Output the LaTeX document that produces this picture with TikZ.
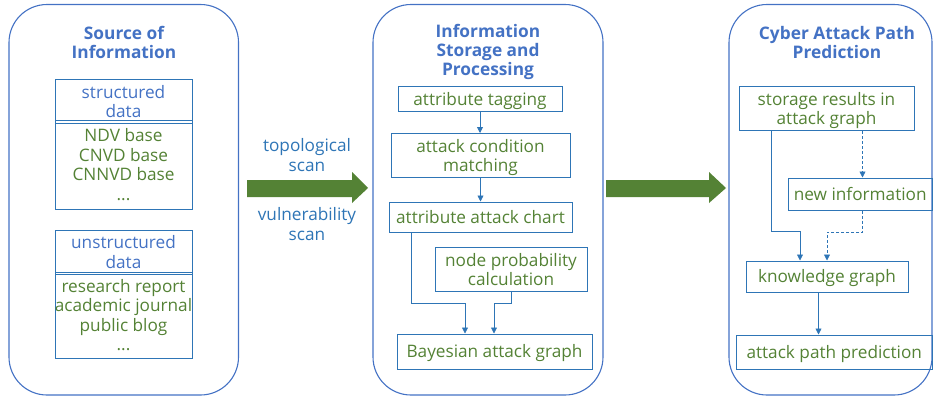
\documentclass[tikz,border=0pt]{standalone}
\usepackage{fontspec}
\setmainfont{Open Sans}
\usetikzlibrary{arrows.meta,calc}
\definecolor{frameblue}{HTML}{4472C4}
\definecolor{boxblue}{HTML}{2E75B6}
\definecolor{txtgreen}{HTML}{548235}
\definecolor{txtblue}{HTML}{4472C4}
\definecolor{flowgreen}{HTML}{548235}
\tikzset{
  container/.style={draw=frameblue, line width=1.1pt, rounded corners=38pt},
  paneltitle/.style={font=\bfseries\fontsize{17.3}{19}\selectfont, text=txtblue, align=center, inner sep=0pt},
  stepbox/.style={draw=boxblue, line width=1pt, inner sep=0pt, text=txtgreen,
    font=\fontsize{17.2}{19.5}\selectfont},
  headbox/.style={stepbox, text=txtblue},
  link/.style={draw=boxblue, line width=0.8pt, -{Triangle[length=6pt,width=6pt]}},
  dlink/.style={link, dash pattern=on 3pt off 2pt},
  scanlabel/.style={font=\fontsize{17.2}{19.5}\selectfont, text=boxblue, align=center, inner sep=0pt},
  bigarrow/.style={fill=flowgreen}
}
% centred lines of zero width, so a long line may overhang its box;
% the extra room on top sets the lines a little lower in the box
\newcommand\boxlines[1]{\makebox[0pt]{\raisebox{0pt}[\dimexpr\height+5pt\relax][\depth]{%
  \begin{tabular}{@{}c@{}}#1\end{tabular}}}}
% box from corner (x1,y1) to (x2,y2), y measured downward
\newcommand\panelbox[7]{%
  \node[#1, minimum width={(#5-#3)*1pt}, minimum height={(#6-#4)*1pt}]
    (#2) at ({(#3+#5)/2},{(#4+#6)/2}) {\boxlines{#7}};}
\begin{document}
\begin{tikzpicture}[x=1pt, y=-1pt]
\useasboundingbox (0,0) rectangle (933,399);

% panels
\draw[container] (9,4.5) rectangle (238.5,395);
\draw[container] (373,4.5) rectangle (603,395);
\begin{scope}
\clip (0,0) rectangle (933,399);
\draw[container] (729,4.5) rectangle (932,395);
\end{scope}

% panel titles
\node[paneltitle] (t1) at (124,42.5) {Source of\\Information};
\node[paneltitle] (t2) at (488,52) {Information\\Storage and\\Processing};
\node[paneltitle] (t3) at (837,42.5) {Cyber Attack Path\\Prediction};

% source of information
\panelbox{headbox}{sh}{55}{83}{192}{120}{structured\\data}
\panelbox{stepbox}{sb}{55}{120}{192}{209}{NDV base\\CNVD base\\CNNVD base\\...}
\panelbox{headbox}{uh}{55}{232}{192}{272}{unstructured\\data}
\panelbox{stepbox}{ub}{55}{272}{192}{358}{research report\\academic journal\\public blog\\...}

% storage and processing
\panelbox{stepbox}{tag}{398}{87}{562}{111}{attribute tagging}
\panelbox{stepbox}{cond}{391}{136}{570}{175}{attack condition\\matching}
\panelbox{stepbox}{chart}{389}{202}{572}{232}{attribute attack chart}
\panelbox{stepbox}{prob}{435}{249}{587}{290}{node probability\\calculation}
\panelbox{stepbox}{bayes}{397}{334}{592}{369}{Bayesian attack graph}

\draw[link] (tag.south) -- (tag.south |- cond.north);
\draw[link] (cond.south) -- (cond.south |- chart.north);
\coordinate (j1) at (465,303);
\coordinate (j2) at (494,303);
\draw[link] ([xshift=23pt]chart.south west) |- (j1) -- (j1 |- bayes.north);
\draw[link] ([xshift=77pt]prob.south west) |- (j2) -- (j2 |- bayes.north);

% attack path prediction
\panelbox{stepbox}{store}{739}{87}{914}{130}{storage results in\\attack graph}
\panelbox{stepbox}{new}{788}{178}{932.5}{210}{new information}
\panelbox{stepbox}{know}{746}{261}{908}{292}{knowledge graph}
\panelbox{stepbox}{pred}{736}{335}{932.5}{369}{attack path prediction}

\coordinate (j3) at (800,231);
\coordinate (j4) at (827,232);
\draw[link] ([xshift=33pt]store.south west) |- (j3) -- (j3 |- know.north);
\draw[dlink] ([xshift=124pt]store.south west) -- ([xshift=124pt]store.south west |- new.north);
\draw[dlink] ([xshift=75pt]new.south west) |- (j4) -- (j4 |- know.north);
\draw[link] ([xshift=73pt]know.south west) -- ([xshift=73pt]know.south west |- pred.north);

% flow between panels
\fill[bigarrow] (247,180) -- (352,180) -- (352,172) -- (368,188) -- (352,203) -- (352,197) -- (247,197) -- cycle;
\fill[bigarrow] (606,180) -- (709,180) -- (709,172) -- (726,188) -- (709,203) -- (709,197) -- (606,197) -- cycle;

\node[scanlabel] (topo) at (307,155) {topological\\scan};
\node[scanlabel] (vuln) at (307,224) {vulnerability\\scan};
\end{tikzpicture}
\end{document}
